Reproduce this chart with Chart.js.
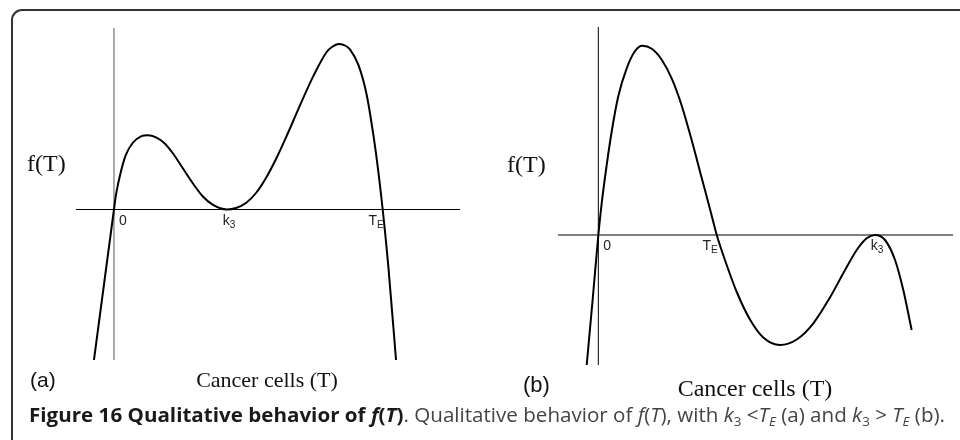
<!DOCTYPE html>
<html>
<head>
<meta charset="utf-8">
<script src="https://cdn.jsdelivr.net/npm/chart.js@4.4.1/dist/chart.umd.min.js"></script>
<style>
  html, body { margin: 0; padding: 0; background: #fff; }
  #page { position: relative; width: 960px; height: 440px; overflow: hidden; background: #fff; }
  #frame { position: absolute; left: 11px; top: 9px; width: 1000px; height: 500px; border: 2px solid #333; border-radius: 11px; box-sizing: border-box; }
  canvas { position: absolute; top: 0; }
  #ca { left: 0; }
  #cb { left: 480px; }
  #caption { position: absolute; left: 29px; top: 403px; white-space: nowrap; font-family: "Open Sans", sans-serif; font-size: 20px; line-height: 24px; color: #444; transform-origin: 0 0; }
  #caption b { color: #1a1a1a; }
  #caption sub { font-size: 13px; vertical-align: -4px; line-height: 0; }
</style>
</head>
<body>
<div id="page">
  <div id="frame"></div>
  <canvas id="ca" width="480" height="440"></canvas>
  <canvas id="cb" width="480" height="440"></canvas>
  <div id="caption"><b>Figure 16 Qualitative behavior of <i>f</i>(<i>T</i>)</b>. Qualitative behavior of <i>f</i>(<i>T</i>), with <i>k</i><sub>3</sub> &lt;<i>T<sub>E</sub></i> (a) and <i>k</i><sub>3</sub> &gt; <i>T<sub>E</sub></i> (b).</div>
</div>
<script>
// ---------- Panel (a): k3 < TE ----------
const aT = [-0.177, -0.089, 0, 0.018, 0.062, 0.106, 0.165, 0.239, 0.298, 0.372, 0.445, 0.519, 0.608, 0.696, 0.785, 0.873, 1.000, 1.080, 1.168, 1.257, 1.345, 1.434, 1.528, 1.646, 1.764, 1.882, 1.929, 1.991, 2.053, 2.088, 2.162, 2.236, 2.295, 2.339, 2.378, 2.428, 2.496];
const aF = [-1.505, -0.755, 0, 0.148, 0.382, 0.548, 0.665, 0.732, 0.742, 0.722, 0.665, 0.565, 0.415, 0.265, 0.132, 0.048, 0, 0.015, 0.065, 0.165, 0.315, 0.505, 0.735, 1.041, 1.334, 1.575, 1.625, 1.655, 1.635, 1.601, 1.448, 1.148, 0.748, 0.382, 0, -0.572, -1.505];
const aXRange = [-0.336, 3.062];   // extent of the horizontal axis
const aYRange = [-1.505, 1.815];   // extent of the vertical axis
const aTickValues = [0, 1.00, 2.378];
const aTickLabels = ["0", "k3", "TE"];

// ---------- Panel (b): k3 > TE ----------
const bT = [-0.103, -0.049, 0, 0.030, 0.074, 0.119, 0.177, 0.251, 0.325, 0.389, 0.473, 0.561, 0.650, 0.738, 0.827, 0.915, 0.988, 1.048, 1.136, 1.225, 1.342, 1.460, 1.608, 1.756, 1.903, 2.050, 2.168, 2.287, 2.375, 2.449, 2.537, 2.626, 2.699, 2.773];
const bF = [-1.30, -0.63, 0, 0.32, 0.70, 1.04, 1.39, 1.667, 1.84, 1.893, 1.863, 1.753, 1.563, 1.293, 0.945, 0.57, 0.26, 0, -0.30, -0.57, -0.845, -1.025, -1.10, -1.045, -0.883, -0.625, -0.383, -0.15, -0.033, 0, -0.05, -0.25, -0.55, -0.95];
const bXRange = [-0.357, 3.139];
const bYRange = [-1.30, 2.08];
const bTickValues = [0, 1.048, 2.449];
const bTickLabels = ["0", "TE", "k3"];

function pts(xs, ys) { return xs.map((x, i) => ({ x: x, y: ys[i] })); }

const tickAlign = { "0": "left", "k3": "center", "TE": "right" };

function tickPlugin(values, labels) {
  return {
    id: 'ticks',
    afterDatasetsDraw(chart) {
      const ctx = chart.ctx, xs = chart.scales.x, ys = chart.scales.y;
      const y0 = ys.getPixelForValue(0);
      ctx.save();
      ctx.fillStyle = '#222';
      ctx.textBaseline = 'alphabetic';
      values.forEach((v, i) => {
        const lab = labels[i];
        const px = xs.getPixelForValue(v);
        const main = lab.charAt(0), sub = lab.slice(1);
        ctx.font = '14px "Liberation Sans", Arial, sans-serif';
        const wm = ctx.measureText(main).width;
        ctx.font = '10px "Liberation Sans", Arial, sans-serif';
        const ws = sub ? ctx.measureText(sub).width : 0;
        const w = wm + ws;
        let left;
        const al = tickAlign[lab];
        if (al === 'left') left = px + 5;
        else if (al === 'center') left = px - w / 2 + 2;
        else left = px - w + 1;
        const base = y0 + 15;
        ctx.font = '14px "Liberation Sans", Arial, sans-serif';
        ctx.fillText(main, left, base);
        if (sub) {
          ctx.font = '10px "Liberation Sans", Arial, sans-serif';
          ctx.fillText(sub, left + wm, base + 3);
        }
      });
      ctx.restore();
    }
  };
}

function textPlugin(items) {
  return {
    id: 'texts',
    afterDraw(chart) {
      const ctx = chart.ctx;
      ctx.save();
      ctx.fillStyle = '#111';
      items.forEach(t => {
        ctx.font = t.font;
        ctx.textAlign = t.align;
        ctx.textBaseline = 'alphabetic';
        ctx.fillText(t.text, t.x, t.y);
      });
      ctx.restore();
    }
  };
}

function makeChart(id, T, F, xr, yr, pad, axisColor, tv, tl, texts) {
  return new Chart(document.getElementById(id), {
    type: 'scatter',
    data: {
      datasets: [
        { data: pts(T, F), showLine: true, borderColor: '#000', borderWidth: 2, pointRadius: 0, cubicInterpolationMode: 'monotone', fill: false, order: 0 },
        { data: [{ x: 0, y: yr[0] }, { x: 0, y: yr[1] }], showLine: true, borderColor: axisColor, borderWidth: 1, pointRadius: 0, tension: 0, order: 1 },
        { data: [{ x: xr[0], y: 0 }, { x: xr[1], y: 0 }], showLine: true, borderColor: '#000', borderWidth: 1, pointRadius: 0, tension: 0, order: 1 }
      ]
    },
    options: {
      responsive: false,
      animation: false,
      devicePixelRatio: 1,
      layout: { padding: pad },
      plugins: { legend: { display: false }, tooltip: { enabled: false } },
      scales: {
        x: { type: 'linear', min: xr[0], max: xr[1], display: false },
        y: { type: 'linear', min: yr[0], max: yr[1], display: false }
      }
    },
    plugins: [tickPlugin(tv, tl), textPlugin(texts)]
  });
}

function drawAll() {
  makeChart('ca', aT, aF, aXRange, aYRange, { left: 76, right: 20, top: 28, bottom: 80 }, '#555', aTickValues, aTickLabels, [
    { text: 'f(T)', x: 27, y: 171, align: 'left', font: '24px "Liberation Serif", "Times New Roman", serif' },
    { text: '(a)', x: 30, y: 387, align: 'left', font: '21px "Liberation Sans", Arial, sans-serif' },
    { text: 'Cancer cells (T)', x: 267, y: 387, align: 'center', font: '22px "Liberation Serif", "Times New Roman", serif' }
  ]);
  makeChart('cb', bT, bF, bXRange, bYRange, { left: 78, right: 7, top: 27, bottom: 75 }, '#000', bTickValues, bTickLabels, [
    { text: 'f(T)', x: 27, y: 172, align: 'left', font: '24px "Liberation Serif", "Times New Roman", serif' },
    { text: '(b)', x: 43, y: 392, align: 'left', font: '22px "Liberation Sans", Arial, sans-serif' },
    { text: 'Cancer cells (T)', x: 275, y: 396, align: 'center', font: '24px "Liberation Serif", "Times New Roman", serif' }
  ]);
  const cap = document.getElementById('caption');
  const w = cap.getBoundingClientRect().width;
  if (w > 0) cap.style.transform = 'scaleX(' + (916 / w) + ')';
}

if (document.fonts && document.fonts.ready) {
  document.fonts.ready.then(drawAll);
} else {
  drawAll();
}
</script>
</body>
</html>
